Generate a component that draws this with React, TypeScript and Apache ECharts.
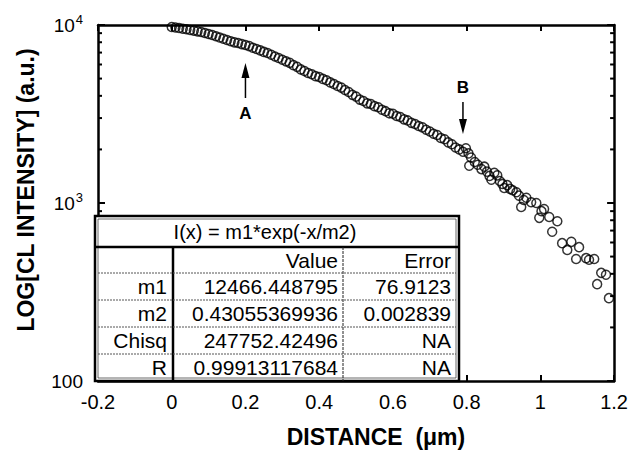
import React, { useEffect, useRef } from "react";
import * as echarts from "echarts";

// Measured CL intensity profile (distance in µm, intensity in a.u.)
const denseData: [number, number][] = [
  [0.0, 9750], [0.01, 9690], [0.02, 9620], [0.03, 9530], [0.04, 9460], [0.05, 9380],
  [0.06, 9300], [0.07, 9210], [0.08, 9130], [0.09, 9010], [0.1, 8900], [0.11, 8790],
  [0.12, 8640], [0.13, 8510], [0.14, 8370], [0.15, 8230], [0.16, 8100], [0.17, 7990],
  [0.18, 7920], [0.19, 7810], [0.2, 7720], [0.21, 7610], [0.22, 7450], [0.23, 7330],
  [0.24, 7200], [0.25, 7060], [0.26, 6960], [0.27, 6810], [0.28, 6650], [0.29, 6530],
  [0.3, 6380], [0.31, 6250], [0.32, 6130], [0.33, 5950], [0.34, 5820], [0.35, 5630],
  [0.36, 5510], [0.37, 5370], [0.38, 5290], [0.39, 5160], [0.4, 5100], [0.41, 4980],
  [0.42, 4890], [0.43, 4760], [0.44, 4660], [0.45, 4540], [0.46, 4450], [0.47, 4310],
  [0.48, 4200], [0.49, 4050], [0.5, 3960], [0.51, 3810], [0.52, 3740], [0.53, 3630],
  [0.54, 3600], [0.55, 3500], [0.56, 3450], [0.57, 3340], [0.58, 3280], [0.59, 3190],
  [0.6, 3170], [0.61, 3080], [0.62, 3040], [0.63, 2950], [0.64, 2910], [0.65, 2820],
  [0.66, 2780], [0.67, 2710], [0.68, 2660], [0.69, 2580], [0.7, 2520], [0.71, 2450],
  [0.72, 2410], [0.73, 2320], [0.74, 2280], [0.75, 2190], [0.76, 2140], [0.77, 2050],
  [0.78, 2000], [0.79, 1940],
];

const tailData: [number, number][] = [
  [0.798, 2030], [0.805, 1900], [0.812, 1800], [0.807, 1620], [0.822, 1700], [0.83, 1640],
  [0.84, 1550], [0.848, 1600], [0.855, 1500], [0.862, 1420], [0.867, 1350], [0.875, 1480],
  [0.883, 1430], [0.89, 1330], [0.897, 1280], [0.902, 1215], [0.91, 1260], [0.918, 1200],
  [0.925, 1180], [0.935, 1150], [0.942, 1100], [0.948, 950], [0.955, 1040], [0.962, 1070],
  [0.975, 1010], [0.989, 1000], [0.997, 825], [1.003, 900], [1.01, 925], [1.024, 835],
  [1.032, 690], [1.046, 790], [1.059, 595], [1.073, 545], [1.084, 605], [1.097, 485],
  [1.105, 565], [1.124, 490], [1.132, 480], [1.146, 485], [1.154, 350], [1.165, 405],
  [1.178, 395], [1.186, 292],
];

const minorTickValues = [200, 300, 400, 500, 600, 700, 800, 900, 2000, 3000, 4000, 5000, 6000, 7000, 8000, 9000];

const fitTitle = "I(x) = m1*exp(-x/m2)";
const fitHeader = ["", "Value", "Error"];
const fitParams = ["m1", "m2", "Chisq", "R"];
const fitValues = ["12466.448795", "0.43055369936", "247752.42496", "0.99913117684"];
const fitErrors = ["76.9123", "0.002839", "NA", "NA"];

const markerA = { x: 0.2, label: "A" };
const markerB = { x: 0.79, label: "B" };

const FONT = "'Liberation Sans', Arial, Helvetica, sans-serif";

export default function App() {
  const ref = useRef<HTMLDivElement>(null);
  useEffect(() => {
    if (!ref.current) return;
    const chart = echarts.init(ref.current, undefined, { renderer: "svg" });
    const axisLine = { show: true, onZero: false, lineStyle: { color: "#000", width: 2.5 } };
    const option: any = {
      animation: false,
      backgroundColor: "#fff",
      grid: { left: 98, right: 16, top: 25, bottom: 69 },
      xAxis: [
        {
          type: "value", min: -0.2, max: 1.2, interval: 0.2, position: "bottom",
          axisLine, axisTick: { inside: true, length: 6, lineStyle: { width: 2, color: "#000" } },
          axisLabel: { fontSize: 20, color: "#000", margin: 11, fontFamily: FONT },
          splitLine: { show: false },
        },
        {
          type: "value", min: -0.2, max: 1.2, interval: 0.2, position: "top",
          axisLine, axisTick: { inside: true, length: 6, lineStyle: { width: 2, color: "#000" } },
          axisLabel: { show: false }, splitLine: { show: false },
        },
      ],
      yAxis: [
        {
          type: "log", logBase: 10, min: 100, max: 10000, position: "left",
          axisLine, axisTick: { inside: true, length: 7, lineStyle: { width: 2, color: "#000" } },
          axisLabel: {
            fontSize: 19, color: "#000", margin: 15, fontFamily: FONT,
            formatter: (v: number) => (Math.round(v) === 100 ? "100" : `10{sup|${Math.round(Math.log10(v))}}`),
            rich: { sup: { fontSize: 13, color: "#000", fontFamily: FONT, padding: [0, 0, 12, 1] } },
          },
          splitLine: { show: false },
        },
        {
          type: "log", logBase: 10, min: 100, max: 10000, position: "right",
          axisLine, axisTick: { inside: true, length: 7, lineStyle: { width: 2, color: "#000" } },
          axisLabel: { show: false }, splitLine: { show: false },
        },
      ],
      series: [
        {
          type: "scatter",
          data: [...denseData, ...tailData],
          symbol: "circle",
          symbolSize: 9,
          itemStyle: { color: "rgba(0,0,0,0)", borderColor: "#000", borderWidth: 1.5 },
          z: 3,
        },
        {
          type: "custom",
          data: minorTickValues.map((v) => [-0.2, v]),
          encode: { x: 0, y: 1 },
          renderItem: (params: any, api: any) => {
            const p = api.coord([api.value(0), api.value(1)]);
            const cs = params.coordSys;
            return {
              type: "group",
              children: [
                { type: "line", shape: { x1: cs.x, y1: p[1], x2: cs.x + 4, y2: p[1] }, style: { stroke: "#000", lineWidth: 2 } },
                { type: "line", shape: { x1: cs.x + cs.width - 4, y1: p[1], x2: cs.x + cs.width, y2: p[1] }, style: { stroke: "#000", lineWidth: 2 } },
              ],
            };
          },
          z: 4,
        },
      ],
    };
    chart.setOption(option);

    const pxA = chart.convertToPixel({ xAxisIndex: 0 }, markerA.x) as number;
    const pxB = chart.convertToPixel({ xAxisIndex: 0 }, markerB.x) as number;

    const L = 95, R = 459, T = 216, B = 381;
    const titleBottom = 247;
    const rowLines = [273, 300, 327, 354];
    const rowsTop = [247, 273, 300, 327, 354];
    const rowsBottom = [273, 300, 327, 354, 381];
    const c1 = 173, c2 = 343;
    const txt = (text: string, x: number, y: number, align: string, size = 21, weight = "normal") => ({
      type: "text", z: 20,
      style: { text, x, y, align, verticalAlign: "middle", fontSize: size, fontFamily: FONT, fill: "#000", fontWeight: weight },
    });
    const tableChildren: any[] = [
      { type: "rect", z: 18, shape: { x: L, y: T, width: R - L, height: B - T }, style: { fill: "#fff", stroke: "#000", lineWidth: 2.5 } },
      { type: "rect", z: 19, shape: { x: L + 3, y: T + 3, width: R - L - 6, height: B - T - 6 }, style: { fill: "none", stroke: "#444", lineWidth: 0.8 } },
      { type: "line", z: 19, shape: { x1: L, y1: titleBottom, x2: R, y2: titleBottom }, style: { stroke: "#000", lineWidth: 2.5 } },
      { type: "line", z: 19, shape: { x1: c1, y1: titleBottom, x2: c1, y2: B }, style: { stroke: "#000", lineWidth: 2.5 } },
      { type: "line", z: 19, shape: { x1: c2, y1: titleBottom, x2: c2, y2: B }, style: { stroke: "#222", lineWidth: 1, lineDash: [3, 1] } },
      ...rowLines.map((y) => ({ type: "line", z: 19, shape: { x1: L + 3, y1: y, x2: R - 3, y2: y }, style: { stroke: "#555", lineWidth: 1, lineDash: [2, 1] } })),
      txt(fitTitle, 265, (T + titleBottom) / 2, "center", 20),
      txt(fitHeader[1], 338, (rowsTop[0] + rowsBottom[0]) / 2, "right"),
      txt(fitHeader[2], 451, (rowsTop[0] + rowsBottom[0]) / 2, "right"),
    ];
    fitParams.forEach((p, i) => {
      const yc = (rowsTop[i + 1] + rowsBottom[i + 1]) / 2;
      tableChildren.push(txt(p, 167, yc, "right"));
      tableChildren.push(txt(fitValues[i], 338, yc, "right"));
      tableChildren.push(txt(fitErrors[i], 451, yc, "right"));
    });

    const graphic: any[] = [
      { type: "group", z: 18, children: tableChildren },
      // Arrow A
      { type: "line", z: 20, shape: { x1: pxA, y1: 98, x2: pxA, y2: 74 }, style: { stroke: "#000", lineWidth: 1.5 } },
      { type: "polygon", z: 20, shape: { points: [[pxA, 63], [pxA - 4, 78], [pxA + 4, 78]] }, style: { fill: "#000" } },
      txt(markerA.label, pxA, 113, "center", 17, "bold"),
      // Arrow B
      txt(markerB.label, pxB, 87, "center", 17, "bold"),
      { type: "line", z: 20, shape: { x1: pxB, y1: 102, x2: pxB, y2: 122 }, style: { stroke: "#000", lineWidth: 1.5 } },
      { type: "polygon", z: 20, shape: { points: [[pxB, 134], [pxB - 4, 119], [pxB + 4, 119]] }, style: { fill: "#000" } },
      // Axis titles
      txt("DISTANCE  (\u03bcm)", 376, 437, "center", 23, "bold"),
      {
        type: "text", z: 20, x: 26, y: 190, rotation: Math.PI / 2,
        style: { text: "LOG[CL INTENSITY] (a.u.)", x: 0, y: 0, align: "center", verticalAlign: "middle", fontSize: 23, fontWeight: "bold", fontFamily: FONT, fill: "#000" },
      },
    ];
    chart.setOption({ graphic });

    return () => chart.dispose();
  }, []);
  return <div ref={ref} style={{ position: "fixed", left: 0, top: 0, width: 631, height: 450 }} />;
}
